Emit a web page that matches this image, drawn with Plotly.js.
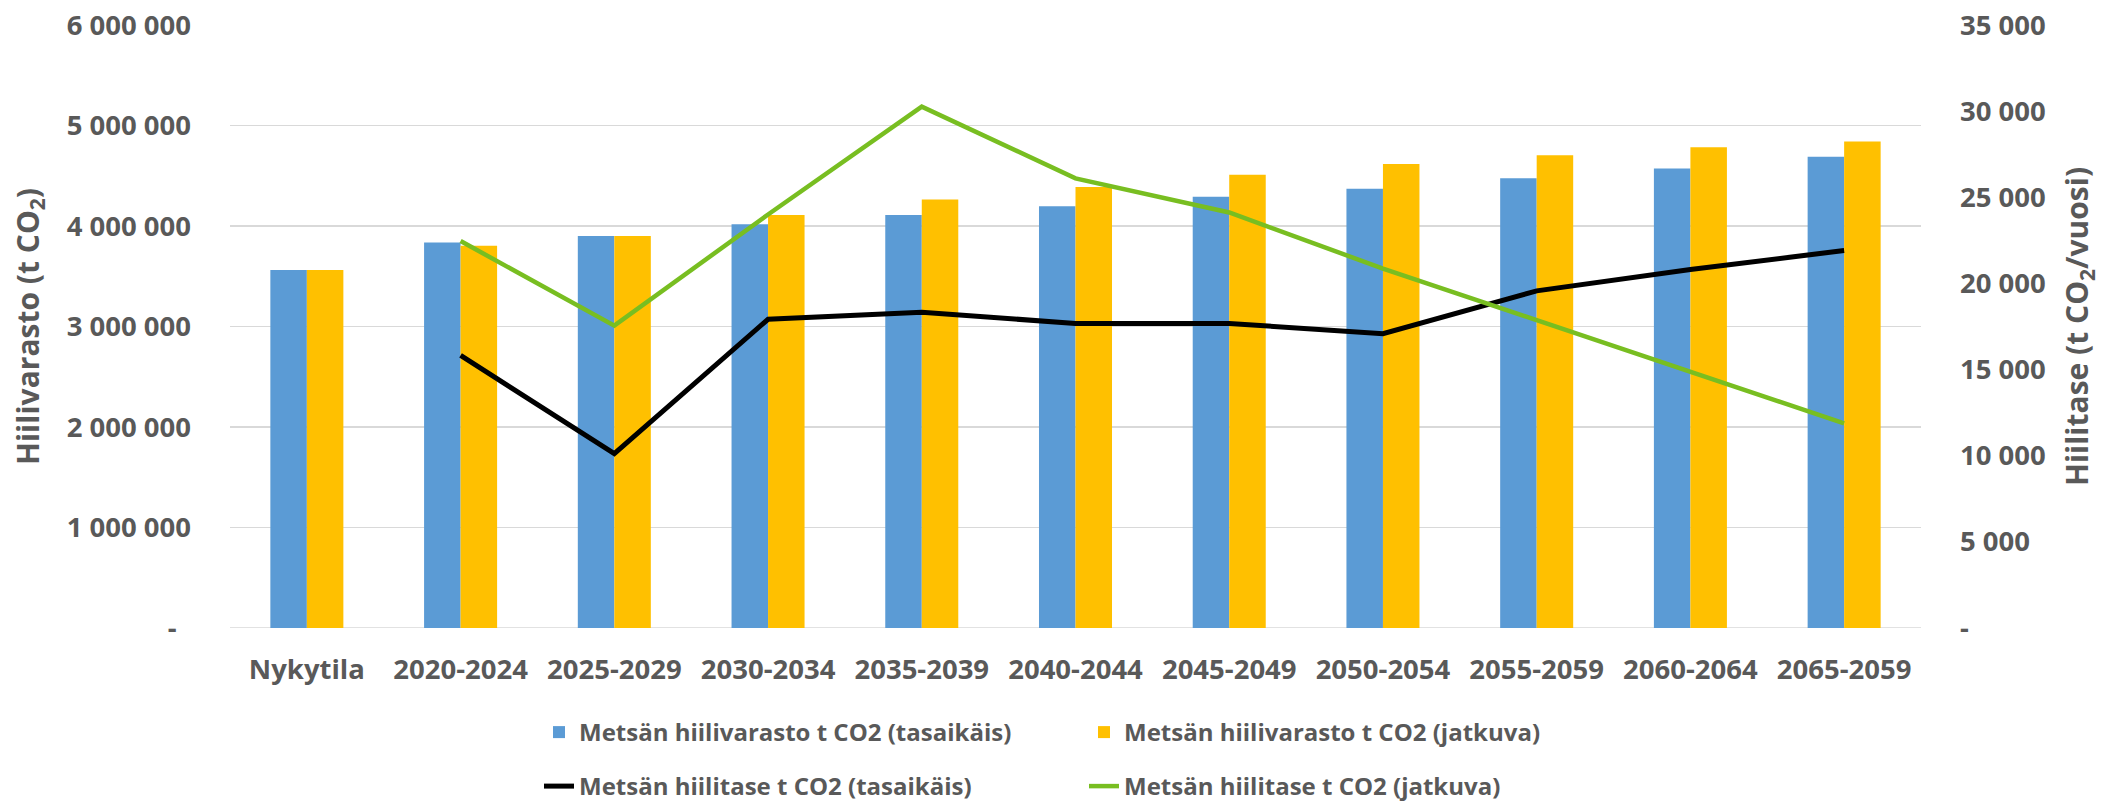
<!DOCTYPE html>
<html>
<head>
<meta charset="utf-8">
<script src="https://cdn.plot.ly/plotly-3.0.1.min.js"></script>
<style>html,body{margin:0;padding:0;background:#fff;}#chart{width:2116px;height:801px;}</style>
</head>
<body>
<div id="chart"></div>
<script>
var categories = ["Nykytila", "2020-2024", "2025-2029", "2030-2034", "2035-2039", "2040-2044", "2045-2049", "2050-2054", "2055-2059", "2060-2064", "2065-2059"];
var stockEven = [3562000, 3836000, 3900000, 4017000, 4110000, 4197000, 4290000, 4370000, 4474000, 4573000, 4690000];
var stockCont = [3562000, 3804000, 3900000, 4110000, 4264000, 4389000, 4510000, 4617000, 4705000, 4783000, 4842000];
var balanceEven = [null, 15820, 10120, 17920, 18320, 17680, 17680, 17080, 19570, 20810, 21910];
var balanceCont = [null, 22460, 17550, 24000, 30260, 26100, 24120, 20860, 17850, 14840, 11880];
var leftTickVals = [0, 1000000, 2000000, 3000000, 4000000, 5000000, 6000000];
var leftTickText = ["-\u00a0\u00a0", "1 000 000", "2 000 000", "3 000 000", "4 000 000", "5 000 000", "6 000 000"];
var rightTickVals = [0, 5000, 10000, 15000, 20000, 25000, 30000, 35000];
var rightTickText = ["-", "5 000", "10 000", "15 000", "20 000", "25 000", "30 000", "35 000"];
var seriesNames = ["Metsän hiilivarasto t CO2 (tasaikäis)", "Metsän hiilivarasto t CO2 (jatkuva)", "Metsän hiilitase t CO2 (tasaikäis)", "Metsän hiilitase t CO2 (jatkuva)"];

var grey = "#595959";
var FONT = "Open Sans, Noto Sans, sans-serif";

var traces = [
  {type: "bar", x: categories, y: stockEven, name: seriesNames[0], marker: {color: "#5B9BD5"}, legend: "legend", yaxis: "y"},
  {type: "bar", x: categories, y: stockCont, name: seriesNames[1], marker: {color: "#FFC000"}, legend: "legend", yaxis: "y"},
  {type: "scatter", mode: "lines", x: categories, y: balanceEven, name: seriesNames[2], line: {color: "#000000", width: 5}, legend: "legend2", yaxis: "y2"},
  {type: "scatter", mode: "lines", x: categories, y: balanceCont, name: seriesNames[3], line: {color: "#78BE21", width: 4.5}, legend: "legend2", yaxis: "y2"}
];

var legendCommon = {
  orientation: "h", xref: "container", yref: "container", xanchor: "left", yanchor: "middle",
  entrywidth: 500, entrywidthmode: "pixels", traceorder: "normal",
  font: {family: FONT, size: 24, color: grey, weight: "bold"}, bgcolor: "rgba(0,0,0,0)"
};

var layout = {
  width: 2116, height: 801,
  paper_bgcolor: "#ffffff", plot_bgcolor: "#ffffff",
  margin: {l: 230, r: 195, t: 25, b: 173},
  barmode: "group", bargap: 0.525, bargroupgap: 0,
  showlegend: true,
  font: {family: FONT, color: grey},
  xaxis: {
    type: "category", showgrid: false, zeroline: false, showline: false, ticks: "",
    tickfont: {family: FONT, size: 27.5, color: grey, weight: "bold"}, ticklabelstandoff: 22
  },
  yaxis: {
    range: [0, 6000000], tickmode: "array", tickvals: leftTickVals, ticktext: leftTickText,
    showgrid: true, gridcolor: "#D9D9D9", gridwidth: 1.5, zeroline: false, showline: false, ticks: "",
    tickfont: {family: FONT, size: 27.5, color: grey, weight: "bold"}, ticklabelstandoff: 38,
    title: {text: "Hiilivarasto (t CO<sub>2</sub>)", font: {family: FONT, size: 30, color: grey, weight: "bold"}, standoff: 18}
  },
  yaxis2: {
    range: [0, 35000], overlaying: "y", side: "right", tickmode: "array", tickvals: rightTickVals, ticktext: rightTickText,
    showgrid: false, zeroline: false, showline: false, ticks: "",
    tickfont: {family: FONT, size: 27.5, color: grey, weight: "bold"}, ticklabelstandoff: 38,
    title: {text: "Hiilitase (t CO<sub>2</sub>/vuosi)", font: {family: FONT, size: 30, color: grey, weight: "bold"}, standoff: 22}
  },
  shapes: [{type: "line", xref: "paper", yref: "y", x0: 0, x1: 1, y0: 0, y1: 0, line: {color: "#D9D9D9", width: 1.5}, layer: "below"}],
  legend: Object.assign({}, legendCommon, {x: 539 / 2116, y: 1 - 732.5 / 801}),
  legend2: Object.assign({}, legendCommon, {x: 539 / 2116, y: 1 - 786.5 / 801})
};

Plotly.newPlot("chart", traces, layout, {displayModeBar: false, staticPlot: true});
</script>
</body>
</html>
